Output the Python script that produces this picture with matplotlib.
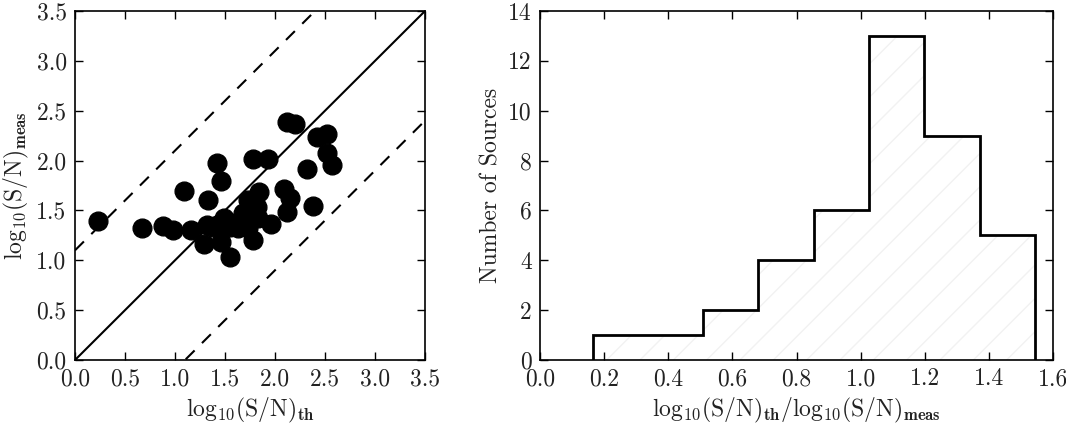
import numpy as np
import matplotlib
matplotlib.use("Agg")
import matplotlib.pyplot as plt

plt.rcParams['font.family'] = 'serif'
plt.rcParams['font.serif'] = ['cmr10']
plt.rcParams['mathtext.fontset'] = 'cm'
plt.rcParams['axes.unicode_minus'] = False
plt.rcParams['font.size'] = 17

# left panel: theoretical vs measured S/N (log10)
sn_th = [0.23, 0.67, 0.88, 0.98, 1.16, 1.09, 1.33, 1.42, 1.46, 1.29,
         1.46, 1.55, 1.32, 1.42, 1.49, 1.55, 1.63, 1.68, 1.73, 1.77,
         1.82, 1.84, 1.83, 1.78, 1.73, 1.96, 1.78, 1.93, 2.09, 2.15,
         2.12, 2.12, 2.20, 2.32, 2.38, 2.42, 2.52, 2.52, 2.57, 1.60,
         1.38]
sn_meas = [1.39, 1.32, 1.34, 1.30, 1.30, 1.69, 1.60, 1.98, 1.79, 1.16,
           1.18, 1.03, 1.35, 1.35, 1.42, 1.33, 1.32, 1.47, 1.60, 1.45,
           1.53, 1.68, 1.42, 1.20, 1.32, 1.36, 2.02, 2.02, 1.71, 1.62,
           1.48, 2.39, 2.37, 1.92, 1.54, 2.24, 2.27, 2.08, 1.96, 1.37,
           1.33]
diag = [0.0, 3.5]
offset = 1.1

# right panel: histogram of the ratio
bin_edges = [0.164, 0.336, 0.508, 0.681, 0.853, 1.026, 1.199, 1.371, 1.543]
counts = [1, 1, 2, 4, 6, 13, 9, 5]

txt = '#222222'
fig = plt.figure(figsize=(10.66, 4.23), dpi=100)
ax1 = fig.add_axes([0.0704, 0.149, 0.3283, 0.825])
ax2 = fig.add_axes([0.5066, 0.149, 0.4812, 0.825])

for ax in (ax1, ax2):
    ax.tick_params(direction='in', top=True, right=True, length=6,
                   width=1, pad=6, labelsize=17, labelcolor=txt)
    for s in ax.spines.values():
        s.set_linewidth(1.2)

ax1.plot(sn_th, sn_meas, 'o', ms=13.5, color='k', zorder=3)
d = np.array(diag)
ax1.plot(d, d, '-', color='k', lw=1.5)
ax1.plot(d, d + offset, '--', color='k', lw=1.5, dashes=(6, 5))
ax1.plot(d, d - offset, '--', color='k', lw=1.5, dashes=(6, 5))
ax1.set(xlim=(0, 3.5), ylim=(0, 3.5),
        xticks=np.arange(0, 3.51, 0.5), yticks=np.arange(0, 3.51, 0.5))
ax1.set_xticklabels(['%.1f' % v for v in np.arange(0, 3.51, 0.5)])
ax1.set_yticklabels(['%.1f' % v for v in np.arange(0, 3.51, 0.5)])
ax1.set_xlabel(r'$\mathrm{log}_{10}(\mathrm{S/N})_{\mathbf{th}}$',
               fontsize=17, color=txt)
ax1.set_ylabel(r'$\mathrm{log}_{10}(\mathrm{S/N})_{\mathbf{meas}}$',
               fontsize=17, color=txt, labelpad=4)

ax2.stairs(counts, bin_edges, fill=True, hatch='/', facecolor='none',
           edgecolor='#f2f2f2', linewidth=0)
ax2.stairs(counts, bin_edges, baseline=0, color='k', lw=2)
ax2.set(xlim=(0, 1.6), ylim=(0, 14),
        xticks=np.arange(0, 1.61, 0.2), yticks=np.arange(0, 14.1, 2))
ax2.set_xticklabels(['%.1f' % v for v in np.arange(0, 1.61, 0.2)])
ax2.set_yticklabels(['%d' % v for v in np.arange(0, 14.1, 2)])
ax2.set_xlabel(r'$\mathrm{log}_{10}(\mathrm{S/N})_{\mathbf{th}}/'
               r'\mathrm{log}_{10}(\mathrm{S/N})_{\mathbf{meas}}$',
               fontsize=17, color=txt)
ax2.set_ylabel('Number of Sources', fontsize=17, color=txt)

fig.savefig('out.png', dpi=100)
